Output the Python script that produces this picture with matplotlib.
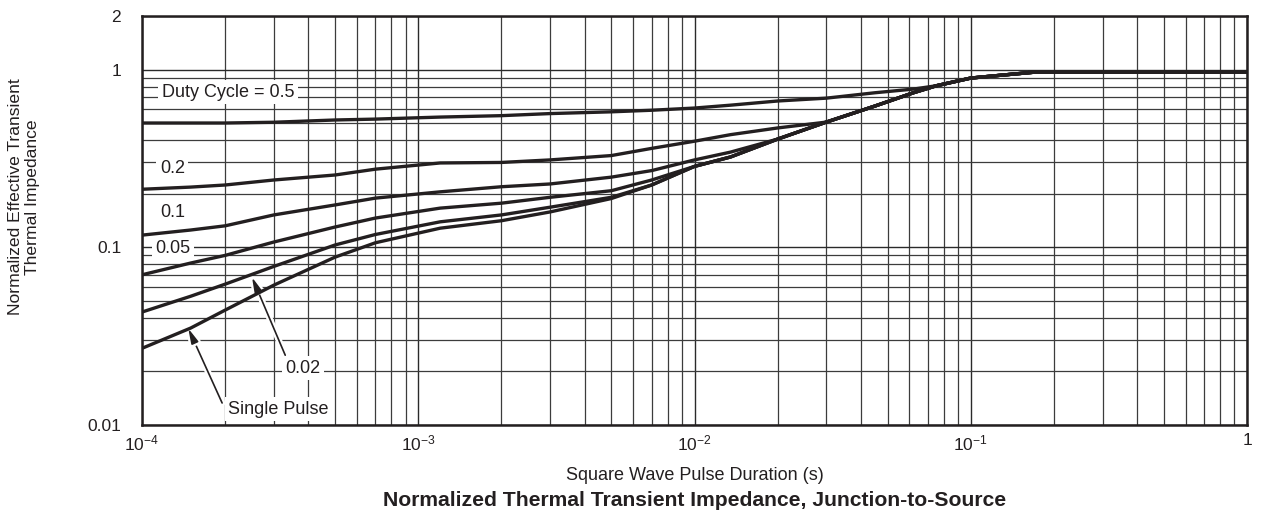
import matplotlib
matplotlib.use('Agg')
import matplotlib.pyplot as plt
from matplotlib.ticker import FixedLocator, FixedFormatter, NullFormatter
import matplotlib.patheffects as pe

plt.rcParams['font.family'] = ['Liberation Sans', 'DejaVu Sans']
plt.rcParams['mathtext.default'] = 'regular'

# pulse duration (s), shared by all curves
t_pulse = [1e-4, 1.5e-4, 2e-4, 3e-4, 5e-4, 7e-4, 1.2e-3, 2e-3, 3e-3, 5e-3, 7e-3,
           1e-2, 1.35e-2, 2e-2, 3e-2, 4.5e-2, 6.2e-2, 7.5e-2, 1e-1, 1.3e-1, 1.75e-1, 1.0]

# normalized effective transient thermal impedance
z_d05 = [0.50, 0.50, 0.50, 0.505, 0.52, 0.526, 0.54, 0.55, 0.565, 0.578, 0.59,
         0.607, 0.63, 0.665, 0.69, 0.74, 0.776, 0.81, 0.895, 0.93, 0.97, 0.97]
z_d02 = [0.212, 0.218, 0.224, 0.239, 0.255, 0.275, 0.298, 0.30, 0.31, 0.328, 0.36,
         0.395, 0.43, 0.469, 0.506, 0.623, 0.74, 0.81, 0.895, 0.93, 0.97, 0.97]
z_d01 = [0.117, 0.125, 0.132, 0.152, 0.173, 0.189, 0.205, 0.219, 0.227, 0.248, 0.27,
         0.31, 0.343, 0.406, 0.506, 0.623, 0.74, 0.81, 0.895, 0.93, 0.97, 0.97]
z_d005 = [0.070, 0.0815, 0.090, 0.107, 0.130, 0.146, 0.166, 0.177, 0.191, 0.208, 0.239,
          0.285, 0.322, 0.406, 0.506, 0.623, 0.74, 0.81, 0.895, 0.93, 0.97, 0.97]
z_d002 = [0.0432, 0.053, 0.062, 0.078, 0.103, 0.118, 0.139, 0.152, 0.168, 0.191, 0.224,
          0.285, 0.322, 0.406, 0.506, 0.623, 0.74, 0.81, 0.895, 0.93, 0.97, 0.97]
z_single = [0.027, 0.0351, 0.0443, 0.0612, 0.088, 0.106, 0.128, 0.141, 0.158, 0.188, 0.224,
            0.285, 0.322, 0.406, 0.506, 0.623, 0.74, 0.81, 0.895, 0.93, 0.97, 0.97]

x_ticks = [1e-4, 1e-3, 1e-2, 1e-1, 1]
x_ticklabels = ['$10^{-4}$', '$10^{-3}$', '$10^{-2}$', '$10^{-1}$', '1']
y_ticks = [0.01, 0.1, 1, 2]
y_ticklabels = ['0.01', '0.1', '1', '2']

ink = '#231f20'

fig = plt.figure(figsize=(12.68, 5.17), dpi=100)
ax = fig.add_axes([142/1268, 1-425/517, (1247-142)/1268, (425-16)/517])
ax.set_xscale('log')
ax.set_yscale('log')
ax.set_xlim(1e-4, 1)
ax.set_ylim(0.01, 2)

for z in [z_d05, z_d02, z_d01, z_d005, z_d002, z_single]:
    ax.plot(t_pulse, z, color=ink, lw=2.4, zorder=4, solid_joinstyle='round')

# grid: full minor grid in x, y minor only below 1
ax.xaxis.set_major_locator(FixedLocator(x_ticks))
ax.xaxis.set_major_formatter(FixedFormatter(x_ticklabels))
ax.xaxis.set_minor_locator(FixedLocator([m*10.0**e for e in range(-4, 0) for m in range(2, 10)]))
ax.xaxis.set_minor_formatter(NullFormatter())
ax.yaxis.set_major_locator(FixedLocator(y_ticks))
ax.yaxis.set_major_formatter(FixedFormatter(y_ticklabels))
ax.yaxis.set_minor_locator(FixedLocator([m*10.0**e for e in (-2, -1) for m in range(2, 10)]))
ax.yaxis.set_minor_formatter(NullFormatter())
ax.grid(which='major', color='#2a2a2a', lw=1.0)
ax.grid(which='minor', color='#3c3c3c', lw=0.9)
ax.tick_params(which='both', length=0, labelsize=12.5, colors=ink)
ax.tick_params(axis='y', pad=15)
ax.tick_params(axis='x', pad=6)
for s in ax.spines.values():
    s.set_linewidth(1.8)
    s.set_color(ink)
    s.set_zorder(5)

box = dict(facecolor='white', edgecolor='none', pad=2.5)
lbl = dict(fontsize=13, color=ink, va='center', ha='left', bbox=box, zorder=3)
ax.text(1.18e-4, 0.747, 'Duty Cycle = 0.5', **lbl)
ax.text(1.16e-4, 0.279, '0.2', **lbl)
ax.text(1.16e-4, 0.156, '0.1', **lbl)
ax.text(1.12e-4, 0.099, '0.05', **lbl)
ax.text(3.3e-4, 0.0209, '0.02', **lbl)
ax.text(2.05e-4, 0.01228, 'Single Pulse', **lbl)

arrow = dict(arrowstyle='-|>,head_length=0.9,head_width=0.22', lw=1.2, color=ink,
             shrinkA=0, shrinkB=0,
             path_effects=[pe.withStroke(linewidth=4.5, foreground='white')])
ax.annotate('', xy=(2.5e-4, 0.068), xytext=(3.3e-4, 0.0247), arrowprops=arrow, zorder=3)
ax.annotate('', xy=(1.47e-4, 0.035), xytext=(1.95e-4, 0.0133), arrowprops=arrow, zorder=3)

fig.text(24/1268, 1-197/517, 'Normalized Effective Transient\nThermal Impedance',
         rotation=90, ha='center', va='center', fontsize=12.6, color=ink, linespacing=1.15)
fig.text(694.5/1268, 1-475/517, 'Square Wave Pulse Duration (s)',
         ha='center', va='center', fontsize=13, color=ink)
fig.text(694.5/1268, 1-500/517, 'Normalized Thermal Transient Impedance, Junction-to-Source',
         ha='center', va='center', fontsize=15.2, fontweight='bold', color=ink)

fig.savefig('out.png', dpi=100)
